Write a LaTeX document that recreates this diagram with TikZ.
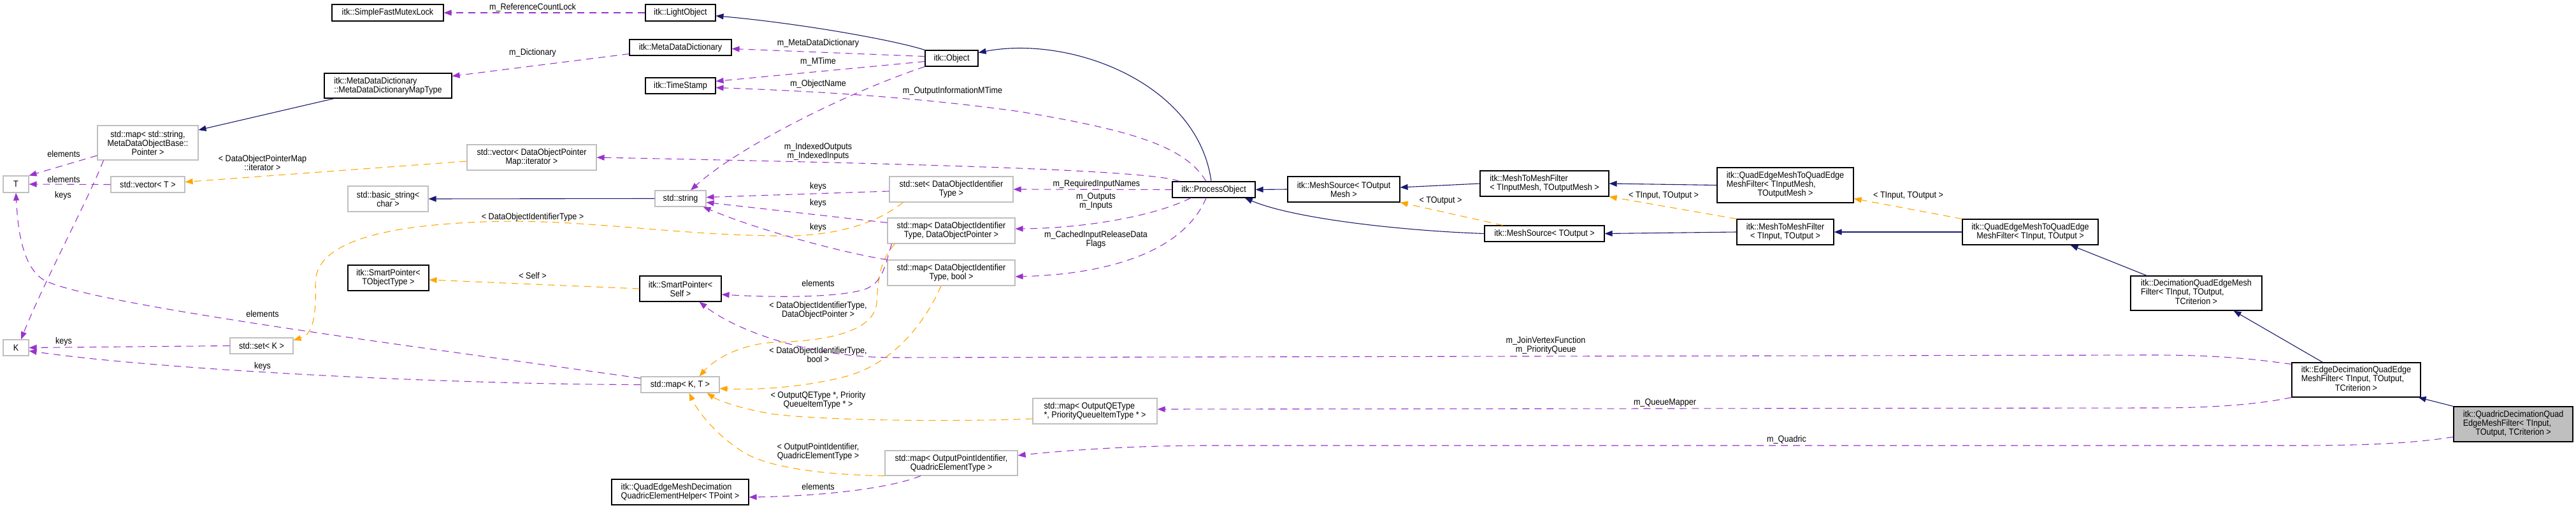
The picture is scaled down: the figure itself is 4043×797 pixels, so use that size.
\documentclass[tikz,border=0pt]{standalone}
\usepackage{fontspec}
\setmainfont{Liberation Sans}[FakeStretch=0.9]
\usepackage{xcolor}
\usepackage{tikz}
\usetikzlibrary{arrows.meta}

\definecolor{inhblue}{RGB}{25,25,112}
\definecolor{usepurple}{RGB}{154,50,205}
\definecolor{tmplorange}{RGB}{255,165,0}
\definecolor{stdgray}{RGB}{191,191,191}

% two left lines, last line centred
\newcommand{\lcl}[3]{\begin{tabular}{@{}l@{}}#1\\#2\\\multicolumn{1}{@{}c@{}}{#3}\end{tabular}}

\begin{document}
\begin{tikzpicture}[x=1pt,y=-1pt,
		font=\fontsize{14}{14}\selectfont,
		cls/.style={draw=black, line width=1.1pt, fill=white, inner sep=2pt, align=center},
		std/.style={draw=stdgray, line width=1.1pt, fill=white, inner sep=2pt, align=center},
		main/.style={draw=black, line width=1.1pt, fill=stdgray, inner sep=2pt},
		sz/.style 2 args={minimum width=#1pt, minimum height=#2pt},
		inh/.style={draw=inhblue, line width=1.1pt, -{Triangle[length=12pt,width=9pt]}},
		tmpl/.style={draw=tmplorange, line width=1.1pt, dash pattern=on 11pt off 8pt, -{Triangle[length=12pt,width=9pt]}},
		memb/.style={draw=usepurple, line width=1.1pt, dash pattern=on 11pt off 8pt, -{Triangle[length=12pt,width=9pt]}},
		lbl/.style={inner sep=0pt, align=center}]
		\useasboundingbox (0,0) rectangle (4043,797);
		
		% itk classes and std containers
		\node[cls, sz={175}{26}] (sfml) at (608.5,20) {itk::SimpleFastMutexLock};
		\node[cls, sz={110}{26}] (lobj) at (1068,20) {itk::LightObject};
		\node[cls, sz={200}{39}, align=left] (mddmt) at (609,134.5) {itk::MetaDataDictionary\\::MetaDataDictionaryMapType};
		\node[cls, sz={160}{25}] (mdd) at (1068,74.5) {itk::MetaDataDictionary};
		\node[cls, sz={110}{25}] (tstamp) at (1068,134.5) {itk::TimeStamp};
		\node[cls, sz={83}{25}] (obj) at (1493.5,91.5) {itk::Object};
		\node[std, sz={158}{54}] (mapstr) at (232,224) {std::map< std::string,\\MetaDataObjectBase::\\Pointer >};
		\node[std, sz={40}{26}] (tnode) at (25,289) {T};
		\node[std, sz={116}{25}] (vect) at (232,289.5) {std::vector< T >};
		\node[std, sz={203}{40}] (vecdop) at (834.5,247) {std::vector< DataObjectPointer\\Map::iterator >};
		\node[std, sz={126}{40}] (bstr) at (609,312) {std::basic\_string<\\char >};
		\node[std, sz={80}{25}] (str) at (1068,311.5) {std::string};
		\node[std, sz={194}{40}] (setdoi) at (1493,297) {std::set< DataObjectIdentifier\\Type >};
		\node[std, sz={200}{40}] (mapdop) at (1493,362) {std::map< DataObjectIdentifier\\Type, DataObjectPointer >};
		\node[std, sz={200}{40}] (mapbool) at (1493,428) {std::map< DataObjectIdentifier\\Type, bool >};
		\node[cls, sz={130}{25}] (procobj) at (1905,297.5) {itk::ProcessObject};
		\node[cls, sz={176}{40}] (msrcm) at (2109,297) {itk::MeshSource< TOutput\\Mesh >};
		\node[cls, sz={202}{40}, align=left] (m2mm) at (2424,288) {itk::MeshToMeshFilter\\< TInputMesh, TOutputMesh >};
		\node[cls, sz={188}{25}] (msrc) at (2424,366.5) {itk::MeshSource< TOutput >};
		\node[cls, sz={214}{55}] (qe2qem) at (2802,290.5) {\lcl{itk::QuadEdgeMeshToQuadEdge}{MeshFilter< TInputMesh,}{TOutputMesh >}};
		\node[cls, sz={152}{40}] (m2m) at (2802,364) {itk::MeshToMeshFilter\\< TInput, TOutput >};
		\node[cls, sz={213}{40}] (qe2qe) at (3186.5,364) {itk::QuadEdgeMeshToQuadEdge\\MeshFilter< TInput, TOutput >};
		\node[cls, sz={206}{54}] (decim) at (3447,460) {\lcl{itk::DecimationQuadEdgeMesh}{Filter< TInput, TOutput,}{TCriterion >}};
		\node[cls, sz={202}{54}] (edgedec) at (3698,596) {\lcl{itk::EdgeDecimationQuadEdge}{MeshFilter< TInput, TOutput,}{TCriterion >}};
		\node[main, sz={187}{55}] (quadric) at (3944.5,665.5) {\lcl{itk::QuadricDecimationQuad}{EdgeMeshFilter< TInput,}{TOutput, TCriterion >}};
		\node[cls, sz={127}{40}] (sptobj) at (609.5,436) {itk::SmartPointer<\\TObjectType >};
		\node[cls, sz={128}{40}] (sptself) at (1068,453) {itk::SmartPointer<\\Self >};
		\node[std, sz={40}{25}] (knode) at (25,545.5) {K};
		\node[std, sz={99}{25}] (setk) at (410.5,542.5) {std::set< K >};
		\node[std, sz={123}{25}] (mapkt) at (1067.5,603.5) {std::map< K, T >};
		\node[std, sz={195}{40}, align=left] (mapqe) at (1718.5,645) {std::map< OutputQEType\\*, PriorityQueueItemType * >};
		\node[std, sz={208}{39}] (mappt) at (1493,726.5) {std::map< OutputPointIdentifier,\\QuadricElementType >};
		\node[cls, sz={215}{40}, align=left] (qhelper) at (1067.5,772) {itk::QuadEdgeMeshDecimation\\QuadricElementHelper< TPoint >};
		
		% inheritance
		\draw[inh] (obj.north west) .. controls (1400,62) and (1250,36) .. (lobj.-5);
		\draw[inh] ([xshift=-4pt]procobj.north) .. controls (1880,130) and (1680,55) .. (obj.12);
		\draw[inh] (msrcm.west) -- (procobj.east);
		\draw[inh] (msrc.west) .. controls (2200,362) and (2030,343) .. (procobj.-15);
		\draw[inh] (m2mm.west) -- ([yshift=3pt]msrcm.east);
		\draw[inh] (qe2qem.west) -- (m2mm.east);
		\draw[inh] (m2m.west) -- (msrc.east);
		\draw[inh] (qe2qe.west) -- (m2m.east);
		\draw[inh] ([xshift=26pt]decim.north west) -- ([xshift=-44pt]qe2qe.south east);
		\draw[inh] ([xshift=49pt]edgedec.north west) -- ([xshift=-45pt]decim.south east);
		\draw[inh] (quadric.north west) -- ([xshift=-4pt]edgedec.south east);
		\draw[inh] (str.west) -- (bstr.east);
		\draw[inh] ([xshift=16pt]mddmt.south west) -- ([yshift=20pt]mapstr.east);
		
		% template instances
		\draw[tmpl] ([yshift=-6pt]vecdop.west) -- ([yshift=4pt]vect.east);
		\draw[tmpl] ([xshift=22pt]setdoi.south west) .. controls (1370,355) and (1300,372) .. (1216,370) .. controls (1050,368) and (900,342) .. (760,348) .. controls (600,354) and (500,380) .. (495,440) .. controls (497,500) and (490,525) .. (setk.10);
		\draw[tmpl] ([xshift=12pt]mapdop.south west) .. controls (1380,410) and (1378,440) .. (1376,475) .. controls (1372,520) and (1300,535) .. (1216,537) .. controls (1160,540) and (1120,565) .. ([xshift=-32pt]mapkt.north east);
		\draw[tmpl] ([xshift=-16pt]mapbool.south) .. controls (1450,510) and (1400,570) .. (1330,590) .. controls (1260,608) and (1190,612) .. ([yshift=-6pt]mapkt.east);
		\draw[tmpl] ([yshift=-12pt]mapqe.west) .. controls (1500,662) and (1300,660) .. (1216,650) .. controls (1170,643) and (1130,630) .. ([xshift=-20pt]mapkt.south east);
		\draw[tmpl] (mappt.south west) .. controls (1300,745) and (1200,735) .. (1160,705) .. controls (1120,678) and (1095,645) .. ([xshift=14pt]mapkt.south);
		\draw[tmpl] (sptself.west) -- ([yshift=-3pt]sptobj.east);
		\draw[tmpl] ([xshift=29pt]msrc.north west) -- (msrcm.south east);
		\draw[tmpl] (m2m.north west) -- (m2mm.south east);
		\draw[tmpl] (qe2qe.north west) -- ([yshift=7pt]qe2qem.south east);
		
		% members
		\draw[memb] (lobj.west) -- (sfml.east);
		\draw[memb] ([yshift=-10pt]mdd.west) -- ([yshift=-5pt]mddmt.north east);
		\draw[memb] ([yshift=3pt]obj.west) -- ([yshift=-2pt]mdd.east);
		\draw[memb] ([yshift=-5pt]obj.west) -- ([yshift=7pt]tstamp.east);
		\draw[memb] ([xshift=-12pt]procobj.north) .. controls (1860,230) and (1780,205) .. (1600,175) .. controls (1420,150) and (1250,142) .. ([yshift=-3pt]tstamp.east);
		\draw[memb] (obj.south west) .. controls (1330,145) and (1160,230) .. ([xshift=16pt]str.north);
		\draw[memb] ([xshift=-54pt]procobj.north) .. controls (1810,268) and (1500,258) .. (vecdop.east);
		\draw[memb] ([yshift=-3pt]setdoi.west) -- ([yshift=2pt]str.east);
		\draw[memb] ([yshift=-8pt]mapdop.north west) -- ([yshift=-6pt]str.east);
		\draw[memb] (mapbool.north west) .. controls (1340,400) and (1200,365) .. ([xshift=-5pt]str.south east);
		\draw[memb] (procobj.west) -- (setdoi.east);
		\draw[memb] ([xshift=-36pt]procobj.south) .. controls (1810,340) and (1700,358) .. ([yshift=3pt]mapdop.east);
		\draw[memb] ([xshift=-12pt]procobj.south) .. controls (1860,390) and (1750,430) .. ([yshift=-6pt]mapbool.east);
		\draw[memb] ([xshift=7pt]mapdop.south west) .. controls (1388,420) and (1385,448) .. (1350,456) .. controls (1300,468) and (1200,466) .. ([yshift=-9pt]sptself.east);
		\draw[memb] ([yshift=-3pt]edgedec.north west) .. controls (3530,562) and (3470,557) .. (3380,557) -- (1400,561) .. controls (1260,560) and (1150,515) .. ([xshift=-35pt]sptself.south east);
		\draw[memb] (edgedec.south west) .. controls (3540,635) and (3470,640) .. (3380,640) -- ([yshift=3pt]mapqe.east);
		\draw[memb] ([yshift=-20pt]quadric.west) .. controls (3790,695) and (3720,699) .. (3600,699) -- (1900,699) .. controls (1780,699) and (1680,706) .. ([yshift=12pt]mappt.east);
		\draw[memb] ([xshift=-48pt]mappt.south) .. controls (1400,765) and (1300,778) .. ([yshift=-8pt]qhelper.east);
		\draw[memb] ([yshift=-20pt]mapstr.west) -- (tnode.north east);
		\draw[memb] ([xshift=10pt]mapstr.south west) .. controls (140,310) and (70,440) .. ([xshift=8pt]knode.north);
		\draw[memb] (vect.west) -- (tnode.east);
		\draw[memb] (setk.west) -- (knode.east);
		\draw[memb] (mapkt.west) .. controls (700,603) and (250,580) .. ([yshift=-5pt]knode.east);
		\draw[memb] ([yshift=10pt]mapkt.west) .. controls (700,550) and (150,480) .. (70,440) .. controls (35,420) and (28,360) .. (tnode.south);
		
		% edge labels
		\node[lbl] (lRefLock) at (836,12) {m\_ReferenceCountLock};
		\node[lbl] (lDict) at (836,83) {m\_Dictionary};
		\node[lbl] (lMetaDict) at (1284,68) {m\_MetaDataDictionary};
		\node[lbl] (lMTime) at (1284,97) {m\_MTime};
		\node[lbl] (lObjName) at (1284,132) {m\_ObjectName};
		\node[lbl] (lOutInfo) at (1495,143) {m\_OutputInformationMTime};
		\node[lbl] (lIndexed) at (1284,238) {m\_IndexedOutputs\\m\_IndexedInputs};
		\node[lbl] (lKeysA) at (1284,293) {keys};
		\node[lbl] (lKeysB) at (1284,319) {keys};
		\node[lbl] (lKeysC) at (1284,357) {keys};
		\node[lbl] (lDoitT) at (836,341) {< DataObjectIdentifierType >};
		\node[lbl] (lDopmIt) at (412,255) {< DataObjectPointerMap\\::iterator >};
		\node[lbl] (lElemA) at (100,241) {elements};
		\node[lbl] (lElemB) at (100,281) {elements};
		\node[lbl] (lKeysD) at (99,307) {keys};
		\node[lbl] (lReqIn) at (1721,289) {m\_RequiredInputNames};
		\node[lbl] (lInOut) at (1720,316) {m\_Outputs\\m\_Inputs};
		\node[lbl] (lCached) at (1720,376) {m\_CachedInputReleaseData\\Flags};
		\node[lbl] (lTOut) at (2261,315) {< TOutput >};
		\node[lbl] (lTInOutA) at (2611,307) {< TInput, TOutput >};
		\node[lbl] (lTInOutB) at (2995,307) {< TInput, TOutput >};
		\node[lbl] (lSelf) at (836,432) {< Self >};
		\node[lbl] (lElemC) at (1284,444) {elements};
		\node[lbl] (lDoitDop) at (1284,487) {< DataObjectIdentifierType,\\DataObjectPointer >};
		\node[lbl] (lDoitBool) at (1284,556) {< DataObjectIdentifierType,\\bool >};
		\node[lbl] (lQeType) at (1284,628) {< OutputQEType *, Priority\\QueueItemType * >};
		\node[lbl] (lPtId) at (1284,709) {< OutputPointIdentifier,\\QuadricElementType >};
		\node[lbl] (lElemD) at (1284,763) {elements};
		\node[lbl] (lElemE) at (412,492) {elements};
		\node[lbl] (lKeysE) at (100,536) {keys};
		\node[lbl] (lKeysF) at (412,575) {keys};
		\node[lbl] (lJoin) at (2426,542) {m\_JoinVertexFunction\\m\_PriorityQueue};
		\node[lbl] (lQMap) at (2613,632) {m\_QueueMapper};
		\node[lbl] (lQuad) at (2804,690) {m\_Quadric};
	\end{tikzpicture}
\end{document}
